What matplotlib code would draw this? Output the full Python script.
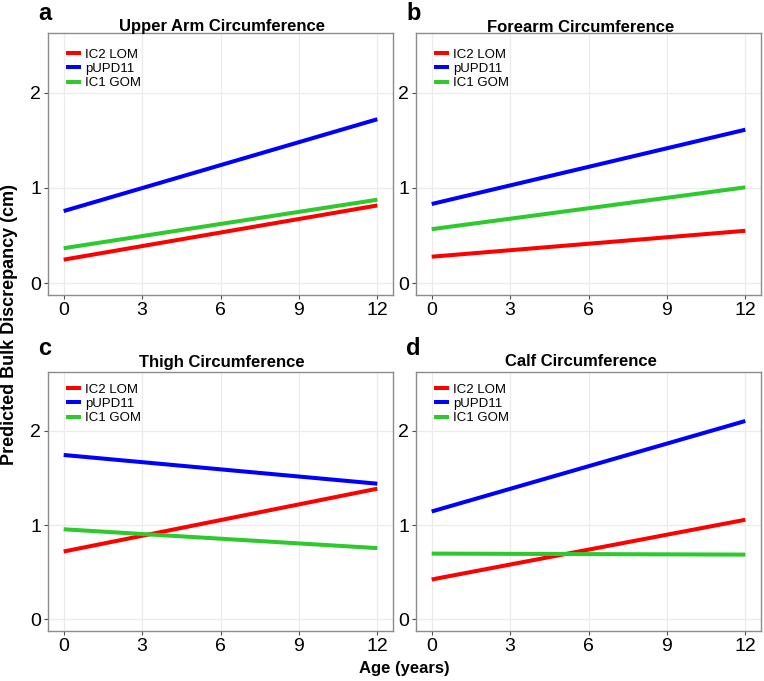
import matplotlib
matplotlib.use("Agg")
import matplotlib.pyplot as plt
from matplotlib.lines import Line2D

plt.rcParams['font.family'] = ['Liberation Sans', 'DejaVu Sans']

# ages at which the predicted lines are drawn
age = [0, 12]

groups = ["IC2 LOM", "pUPD11", "IC1 GOM"]
colors = ["#FF0000", "#0000FF", "#2DC92D"]

panels = ["a", "b", "c", "d"]
titles = ["Upper Arm Circumference", "Forearm Circumference",
          "Thigh Circumference", "Calf Circumference"]

# predicted bulk discrepancy (cm) at age 0 and 12, per group
upper_arm = {"IC2 LOM": [0.246, 0.815], "pUPD11": [0.756, 1.72], "IC1 GOM": [0.366, 0.875]}
forearm = {"IC2 LOM": [0.277, 0.549], "pUPD11": [0.83, 1.61], "IC1 GOM": [0.566, 1.005]}
thigh = {"IC2 LOM": [0.719, 1.386], "pUPD11": [1.744, 1.439], "IC1 GOM": [0.955, 0.755]}
calf = {"IC2 LOM": [0.422, 1.056], "pUPD11": [1.144, 2.105], "IC1 GOM": [0.697, 0.686]}
data = [upper_arm, forearm, thigh, calf]

W, H = 764, 681
fig = plt.figure(figsize=(W / 100, H / 100), dpi=100)

# axes boxes in pixels: left, right, top, bottom
boxes = [(48, 393, 33, 295), (416, 761, 33, 295),
         (48, 393, 372, 631), (416, 761, 372, 631)]
# pixel positions: title centre x / baseline y, letter baseline y, legend top y
title_x = [222, 581, 222, 581]
title_y = [31.5, 31.5, 366.5, 366.5]
letter_y = [20, 20, 355, 355]
legend_top = [48.5, 48.5, 383.5, 383.5]

for i in range(4):
    l, r, t, b = boxes[i]
    ax = fig.add_axes([l / W, 1 - b / H, (r - l) / W, (b - t) / H])
    for g, c in zip(groups, colors):
        ax.plot(age, data[i][g], color=c, lw=2.9, solid_capstyle='butt', label=g)
    ax.set_xlim(-0.6, 12.6)
    ax.set_ylim(-0.125, 2.625)
    ax.set_xticks([0, 3, 6, 9, 12])
    ax.set_yticks([0, 1, 2])
    ax.grid(True, color='#EBEBEB', lw=0.9)
    ax.set_axisbelow(True)
    for s in ax.spines.values():
        s.set_color('#8C8C8C')
        s.set_linewidth(1.0)
    ax.tick_params(colors='#4D4D4D', length=3, width=0.8, labelsize=14, labelcolor='black', pad=2)

    fig.text(title_x[i] / W, 1 - title_y[i] / H, titles[i], fontsize=12,
             fontweight='bold', ha='center', va='baseline')
    fig.text((l - 10) / W, 1 - letter_y[i] / H, panels[i], fontsize=17,
             fontweight='bold', ha='left', va='baseline')

    handles = [Line2D([0], [0], color=c, lw=2.9, solid_capstyle='butt') for c in colors]
    ax.legend(handles, groups, loc='upper left',
              bbox_to_anchor=((l + 18) / W, 1 - legend_top[i] / H),
              bbox_transform=fig.transFigure, frameon=False, fontsize=9.5,
              handlelength=1.15, handletextpad=0.3, labelspacing=0.16,
              borderaxespad=0, borderpad=0)

fig.text(10 / W, 1 - 325 / H, "Predicted Bulk Discrepancy (cm)", rotation=90,
         fontsize=13, fontweight='bold', ha='center', va='center')
fig.text(404 / W, 1 - 669 / H, "Age (years)", fontsize=12, fontweight='bold',
         ha='center', va='center')

fig.savefig("out.png", dpi=100)
